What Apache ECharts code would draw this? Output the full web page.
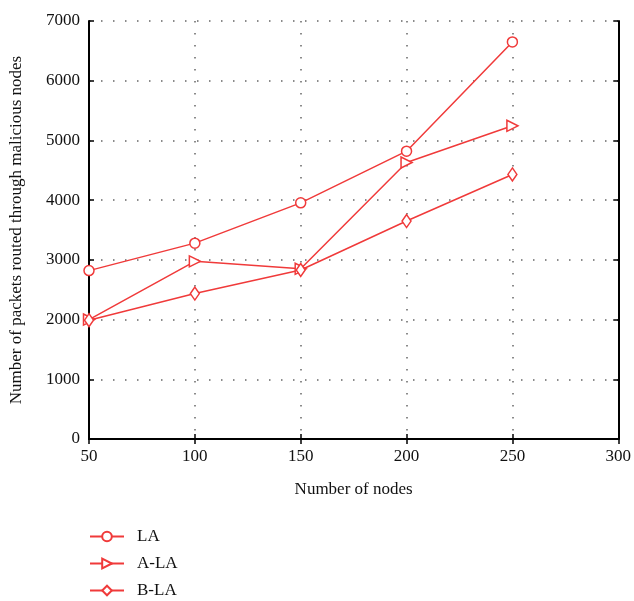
<!DOCTYPE html>
<html>
<head>
<meta charset="utf-8">
<script src="https://cdn.jsdelivr.net/npm/echarts@6/dist/echarts.min.js"></script>
<style>
html, body { margin: 0; padding: 0; background: #fff; }
#main { width: 634px; height: 601px; }
</style>
</head>
<body>
<div id="main"></div>
<script>
var nodes = [50, 100, 150, 200, 250];
var laValues = [2820, 3280, 3955, 4820, 6650];
var aLaValues = [2000, 2975, 2850, 4630, 5245];
var bLaValues = [1990, 2435, 2830, 3650, 4430];
var seriesNames = ['LA', 'A-LA', 'B-LA'];

function pairs(values) {
    return nodes.map(function (n, i) { return [n, values[i]]; });
}

var red = '#f03a3a';
var font = 'Liberation Serif';

var chart = echarts.init(document.getElementById('main'));

function mkSeries(name, values, symbol, size, rotate) {
    return {
        name: name,
        type: 'line',
        data: pairs(values),
        symbol: symbol,
        symbolSize: size,
        symbolRotate: rotate || 0,
        showAllSymbol: true,
        lineStyle: { color: red, width: 1.5 },
        itemStyle: { color: '#fff', borderColor: red, borderWidth: 1.5 }
    };
}

var frameAxis = {
    axisLine: { show: true, lineStyle: { color: '#000', width: 2 } },
    axisTick: { show: true, inside: true, length: 5, lineStyle: { color: '#000', width: 1.5 } },
    axisLabel: { show: false },
    splitLine: { show: false }
};

var option = {
    animation: false,
    grid: { left: 88, right: 13, top: 21, bottom: 162 },
    legend: {
        orient: 'vertical',
        left: 89,
        top: 528,
        height: 73,
        padding: 0,
        itemWidth: 34,
        itemHeight: 12,
        itemGap: 10,
        data: seriesNames,
        textStyle: { fontFamily: font, fontSize: 17, lineHeight: 17, color: '#111', padding: [0, 0, 0, 8] }
    },
    xAxis: [{
        type: 'value',
        min: 50,
        max: 300,
        interval: 50,
        name: 'Number of nodes',
        nameLocation: 'middle',
        nameGap: 42,
        nameTextStyle: { fontFamily: font, fontSize: 17, color: '#111' },
        axisLine: { show: true, lineStyle: { color: '#000', width: 2 } },
        axisTick: { show: true, inside: true, length: 5, lineStyle: { color: '#000', width: 1.5 } },
        axisLabel: { fontFamily: font, fontSize: 17, color: '#111', margin: 9 },
        splitLine: { show: true, lineStyle: { color: '#666', width: 1.5, type: [1.5, 10.5] } }
    }, Object.assign({ type: 'value', position: 'top', min: 50, max: 300, interval: 50 }, frameAxis)],
    yAxis: [{
        type: 'value',
        min: 0,
        max: 7000,
        interval: 1000,
        name: 'Number of packets routed through malicious nodes',
        nameLocation: 'middle',
        nameGap: 64,
        nameTextStyle: { fontFamily: font, fontSize: 17, color: '#111' },
        axisLine: { show: true, lineStyle: { color: '#000', width: 2 } },
        axisTick: { show: true, inside: true, length: 5, lineStyle: { color: '#000', width: 1.5 } },
        axisLabel: { fontFamily: font, fontSize: 17, color: '#111', margin: 9, formatter: function (v) { return String(v); } },
        splitLine: { show: true, lineStyle: { color: '#666', width: 1.5, type: [1.5, 10.5] } }
    }, Object.assign({ type: 'value', position: 'right', min: 0, max: 7000, interval: 1000 }, frameAxis)],
    series: [
        mkSeries('LA', laValues, 'circle', 10),
        mkSeries('A-LA', aLaValues, 'triangle', 11, -90),
        mkSeries('B-LA', bLaValues, 'diamond', [9, 13])
    ]
};

chart.setOption(option);
</script>
</body>
</html>
